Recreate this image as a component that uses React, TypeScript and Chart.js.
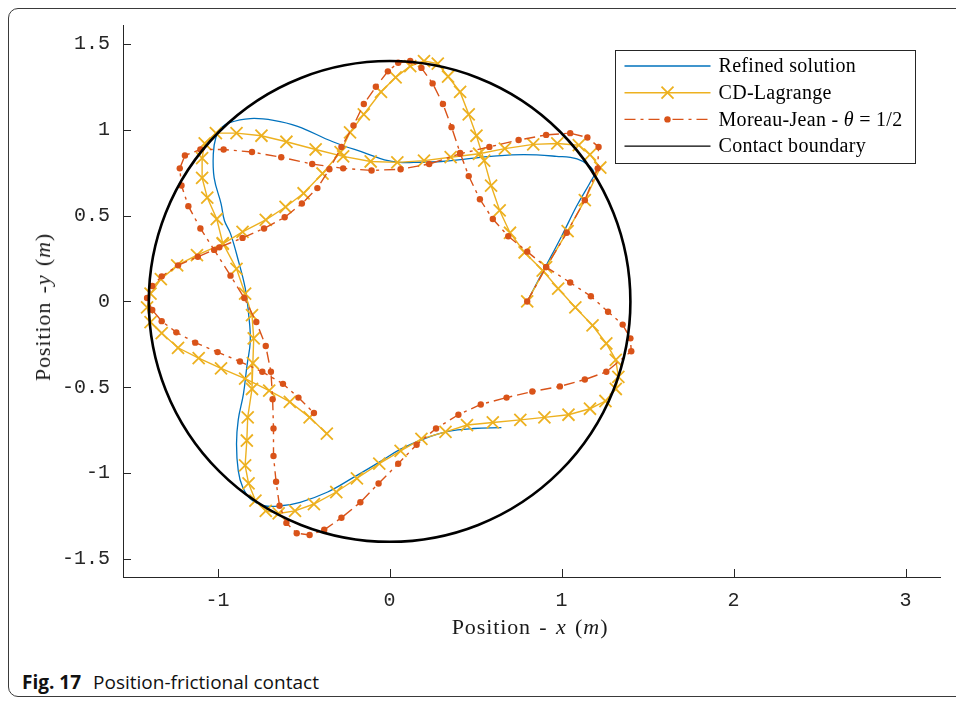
import React, { useEffect, useRef } from "react";
import { Chart, registerables } from "chart.js";

Chart.register(...registerables);

// ---- axes ----
const X_TICKS = [-1, 0, 1, 2, 3];
const Y_TICKS = [-1.5, -1, -0.5, 0, 0.5, 1, 1.5];
const X_RANGE = [-1.55, 3.2];
const Y_RANGE = [-1.605, 1.61];

// ---- contact boundary (circle of radius R centred at origin) ----
const CONTACT_CENTER = [0, 0];
const CONTACT_RADIUS = 1.4;

// ---- Refined solution ----
const REFINED_X = [0.8, 0.9, 1.0, 1.09, 1.17, 1.19, 1.16, 1.09, 0.97, 0.78, 0.59, 0.45, 0.3, 0.14, 0.06, -0.03, -0.13, -0.33, -0.535, -0.675, -0.81, -0.935, -0.98, -1.01, -1.025, -1.02, -0.98, -0.96, -0.925, -0.88, -0.84, -0.82, -0.81, -0.83, -0.85, -0.88, -0.89, -0.88, -0.855, -0.81, -0.73, -0.63, -0.52, -0.36, -0.21, -0.05, 0.064, 0.2, 0.34, 0.49, 0.65];
const REFINED_Y = [0.0, 0.19, 0.38, 0.56, 0.7, 0.745, 0.79, 0.83, 0.845, 0.855, 0.845, 0.83, 0.815, 0.81, 0.81, 0.825, 0.86, 0.93, 1.02, 1.055, 1.065, 1.04, 1.01, 0.955, 0.86, 0.72, 0.57, 0.47, 0.395, 0.24, 0.08, -0.07, -0.23, -0.38, -0.54, -0.69, -0.83, -0.985, -1.08, -1.15, -1.19, -1.19, -1.17, -1.11, -1.025, -0.93, -0.86, -0.8, -0.757, -0.74, -0.735];

// ---- CD-Lagrange ----
const CD_X = [0.8, 0.91, 1.035, 1.135, 1.225, 1.165, 1.1, 0.975, 0.835, 0.67, 0.52, 0.355, 0.2, 0.045, -0.11, -0.27, -0.43, -0.6, -0.745, -0.89, -1.01, -1.075, -1.09, -1.09, -1.06, -1.005, -0.97, -0.89, -0.84, -0.8, -0.79, -0.795, -0.8, -0.825, -0.83, -0.84, -0.82, -0.78, -0.72, -0.645, -0.55, -0.44, -0.31, -0.19, -0.06, 0.064, 0.185, 0.325, 0.45, 0.6, 0.76, 0.9, 1.04, 1.165, 1.255, 1.315, 1.33, 1.315, 1.26, 1.18, 1.08, 0.98, 0.89, 0.785, 0.7, 0.64, 0.59, 0.55, 0.505, 0.46, 0.41, 0.34, 0.28, 0.2, 0.12, 0.035, -0.05, -0.15, -0.23, -0.285, -0.39, -0.5, -0.605, -0.72, -0.855, -0.97, -1.12, -1.235, -1.33, -1.39, -1.41, -1.39, -1.325, -1.23, -1.11, -0.98, -0.84, -0.7, -0.58, -0.465, -0.365];
const CD_Y = [0.0, 0.2, 0.41, 0.59, 0.78, 0.855, 0.91, 0.92, 0.915, 0.89, 0.86, 0.84, 0.82, 0.81, 0.815, 0.845, 0.885, 0.93, 0.965, 0.98, 0.98, 0.92, 0.835, 0.72, 0.605, 0.48, 0.34, 0.19, 0.045, -0.08, -0.215, -0.36, -0.51, -0.675, -0.81, -0.955, -1.06, -1.16, -1.22, -1.235, -1.22, -1.18, -1.11, -1.03, -0.945, -0.87, -0.8, -0.76, -0.72, -0.705, -0.69, -0.675, -0.66, -0.625, -0.58, -0.51, -0.44, -0.34, -0.245, -0.14, -0.035, 0.075, 0.18, 0.285, 0.4, 0.53, 0.675, 0.82, 0.965, 1.09, 1.22, 1.31, 1.385, 1.4, 1.37, 1.305, 1.22, 1.09, 0.985, 0.87, 0.745, 0.63, 0.55, 0.475, 0.405, 0.335, 0.27, 0.21, 0.13, 0.045, -0.035, -0.12, -0.185, -0.27, -0.33, -0.39, -0.45, -0.52, -0.585, -0.675, -0.77];

// ---- Moreau-Jean, theta = 1/2 ----
const MJ_X = [0.8, 0.91, 1.03, 1.135, 1.21, 1.215, 1.15, 1.05, 0.91, 0.75, 0.58, 0.41, 0.23, 0.064, -0.105, -0.27, -0.45, -0.63, -0.8, -0.965, -1.1, -1.19, -1.22, -1.21, -1.17, -1.1, -1.02, -0.925, -0.845, -0.775, -0.72, -0.69, -0.68, -0.675, -0.675, -0.66, -0.64, -0.6, -0.54, -0.465, -0.38, -0.28, -0.17, -0.064, 0.05, 0.157, 0.27, 0.4, 0.53, 0.68, 0.83, 0.99, 1.135, 1.26, 1.405, 1.4, 1.355, 1.27, 1.17, 1.05, 0.91, 0.8, 0.69, 0.6, 0.525, 0.46, 0.41, 0.36, 0.31, 0.25, 0.185, 0.12, 0.05, -0.01, -0.08, -0.15, -0.21, -0.28, -0.35, -0.42, -0.51, -0.61, -0.73, -0.855, -0.99, -1.115, -1.23, -1.325, -1.38, -1.41, -1.38, -1.325, -1.24, -1.13, -1.0, -0.87, -0.74, -0.62, -0.53, -0.44];
const MJ_Y = [0.0, 0.2, 0.4, 0.59, 0.775, 0.9, 0.955, 0.98, 0.97, 0.94, 0.9, 0.86, 0.8, 0.77, 0.763, 0.775, 0.8, 0.84, 0.87, 0.885, 0.885, 0.85, 0.775, 0.675, 0.555, 0.425, 0.3, 0.15, 0.02, -0.12, -0.26, -0.41, -0.57, -0.74, -0.9, -1.05, -1.19, -1.29, -1.35, -1.36, -1.33, -1.26, -1.17, -1.06, -0.945, -0.835, -0.74, -0.66, -0.6, -0.56, -0.525, -0.495, -0.455, -0.41, -0.29, -0.215, -0.135, -0.06, 0.03, 0.11, 0.2, 0.29, 0.38, 0.48, 0.595, 0.73, 0.865, 1.015, 1.15, 1.27, 1.36, 1.4, 1.39, 1.34, 1.25, 1.15, 1.025, 0.9, 0.77, 0.66, 0.57, 0.49, 0.425, 0.37, 0.315, 0.26, 0.21, 0.146, 0.09, 0.02, -0.05, -0.115, -0.18, -0.24, -0.295, -0.35, -0.41, -0.48, -0.56, -0.65];

const LABELS = ["Refined solution", "CD-Lagrange", "Moreau-Jean - θ = 1/2", "Contact boundary"];

const BLUE = "#0072BD";
const YELLOW = "#EDB120";
const ORANGE = "#D95319";
const AXIS = "#262626";
const MJ_DASH = [11, 5, 3, 5];

const toPts = (xs: number[], ys: number[]) => xs.map((x, i) => ({ x, y: ys[i] }));

const decorPlugin = {
  id: "decor",
  afterDatasetsDraw(chart: any) {
    const { ctx, scales } = chart;
    const xs = scales.x, ys = scales.y;
    const cx = xs.getPixelForValue(CONTACT_CENTER[0]);
    const cy = ys.getPixelForValue(CONTACT_CENTER[1]);
    const rx = Math.abs(xs.getPixelForValue(CONTACT_CENTER[0] + CONTACT_RADIUS) - cx);
    const ry = Math.abs(ys.getPixelForValue(CONTACT_CENTER[1] + CONTACT_RADIUS) - cy);
    ctx.save();
    ctx.beginPath();
    ctx.ellipse(cx, cy, rx, ry, 0, 0, Math.PI * 2);
    ctx.lineWidth = 2.6;
    ctx.strokeStyle = "#000";
    ctx.stroke();
    ctx.restore();
  },
  afterDraw(chart: any) {
    const { ctx, scales, chartArea } = chart;
    const xs = scales.x, ys = scales.y;
    ctx.save();
    // inward tick marks
    ctx.strokeStyle = AXIS;
    ctx.lineWidth = 1;
    ctx.beginPath();
    X_TICKS.forEach((v) => {
      const p = Math.round(xs.getPixelForValue(v)) + 0.5;
      ctx.moveTo(p, chartArea.bottom);
      ctx.lineTo(p, chartArea.bottom - 8);
    });
    Y_TICKS.forEach((v) => {
      const p = Math.round(ys.getPixelForValue(v)) + 0.5;
      ctx.moveTo(chartArea.left, p);
      ctx.lineTo(chartArea.left + 8, p);
    });
    ctx.stroke();

    // legend
    const bx = chartArea.right - 324.5;
    const by = chartArea.top + 25.5;
    const bw = 300, bh = 113;
    ctx.fillStyle = "#fff";
    ctx.fillRect(bx, by, bw, bh);
    ctx.strokeStyle = AXIS;
    ctx.lineWidth = 1;
    ctx.strokeRect(bx, by, bw, bh);
    const rowY = (i: number) => by + 15.5 + i * 26.7;
    const l0 = bx + 9, l1 = bx + 95, lm = bx + 52, tx = bx + 103;
    for (let i = 0; i < 4; i++) {
      const yy = rowY(i);
      ctx.save();
      ctx.beginPath();
      ctx.moveTo(l0, yy);
      ctx.lineTo(l1, yy);
      if (i === 0) { ctx.strokeStyle = BLUE; ctx.lineWidth = 1.3; }
      if (i === 1) { ctx.strokeStyle = YELLOW; ctx.lineWidth = 1.4; }
      if (i === 2) { ctx.strokeStyle = ORANGE; ctx.lineWidth = 1.4; ctx.setLineDash(MJ_DASH); }
      if (i === 3) { ctx.strokeStyle = "#000"; ctx.lineWidth = 1.4; }
      ctx.stroke();
      ctx.setLineDash([]);
      if (i === 1) {
        const d = 6;
        ctx.beginPath();
        ctx.moveTo(lm - d, yy - d); ctx.lineTo(lm + d, yy + d);
        ctx.moveTo(lm - d, yy + d); ctx.lineTo(lm + d, yy - d);
        ctx.lineWidth = 1.8;
        ctx.stroke();
      }
      if (i === 2) {
        ctx.beginPath();
        ctx.arc(lm, yy, 3.2, 0, Math.PI * 2);
        ctx.fillStyle = ORANGE;
        ctx.fill();
      }
      ctx.restore();
      ctx.save();
      ctx.fillStyle = "#000";
      ctx.textBaseline = "middle";
      ctx.textAlign = "left";
      try { (ctx as any).letterSpacing = "0.3px"; } catch (e) {}
      const normal = '20px "Liberation Serif", "Times New Roman", serif';
      const italic = 'italic 20px "Liberation Serif", "Times New Roman", serif';
      if (i === 2) {
        const parts = [["Moreau-Jean - ", normal], ["θ", italic], [" = 1/2", normal]];
        let x = tx;
        parts.forEach(([t, f]) => {
          ctx.font = f;
          ctx.fillText(t, x, yy + 1);
          x += ctx.measureText(t).width;
        });
      } else {
        ctx.font = normal;
        ctx.fillText(LABELS[i], tx, yy + 1);
      }
      ctx.restore();
    }
    ctx.restore();
  },
};

export default function App() {
  const ref = useRef<HTMLCanvasElement | null>(null);
  useEffect(() => {
    if (!ref.current) return;
    const chart = new Chart(ref.current, {
      type: "scatter",
      data: {
        datasets: [
          {
            label: LABELS[0],
            data: toPts(REFINED_X, REFINED_Y),
            showLine: true,
            borderColor: BLUE,
            borderWidth: 1.3,
            pointRadius: 0,
            tension: 0.4,
            order: 3,
          },
          {
            label: LABELS[1],
            data: toPts(CD_X, CD_Y),
            showLine: true,
            borderColor: YELLOW,
            backgroundColor: YELLOW,
            borderWidth: 1.4,
            pointStyle: "crossRot",
            pointRadius: 8.5,
            pointBorderWidth: 1.8,
            pointBorderColor: YELLOW,
            order: 2,
          },
          {
            label: LABELS[2],
            data: toPts(MJ_X, MJ_Y),
            showLine: true,
            borderColor: ORANGE,
            backgroundColor: ORANGE,
            borderWidth: 1.4,
            borderDash: MJ_DASH,
            pointStyle: "circle",
            pointRadius: 3.2,
            pointBorderWidth: 0,
            pointBackgroundColor: ORANGE,
            order: 1,
          },
        ],
      },
      options: {
        animation: false,
        responsive: false,
        devicePixelRatio: 1,
        layout: { padding: { left: 0, right: 16, top: 25, bottom: 0 } },
        plugins: { legend: { display: false }, tooltip: { enabled: false } },
        scales: {
          x: {
            type: "linear",
            min: X_RANGE[0],
            max: X_RANGE[1],
            grid: { display: false, drawTicks: false },
            border: { display: true, color: AXIS, width: 1 },
            afterBuildTicks: (s: any) => { s.ticks = X_TICKS.map((v) => ({ value: v })); },
            afterFit: (s: any) => { s.height = 83; },
            ticks: {
              padding: 12,
              color: AXIS,
              font: { family: '"Liberation Mono", "Courier New", monospace', size: 20 },
              callback: (v: any) => String(v),
            },
          },
          y: {
            type: "linear",
            min: Y_RANGE[0],
            max: Y_RANGE[1],
            grid: { display: false, drawTicks: false },
            border: { display: true, color: AXIS, width: 1 },
            afterBuildTicks: (s: any) => { s.ticks = Y_TICKS.map((v) => ({ value: v })); },
            afterFit: (s: any) => { s.width = 123; },
            ticks: {
              padding: 13,
              color: AXIS,
              font: { family: '"Liberation Mono", "Courier New", monospace', size: 20 },
              callback: (v: any) => String(v),
            },
          },
        },
      },
      plugins: [decorPlugin],
    } as any);
    return () => chart.destroy();
  }, []);

  const serif = '"Liberation Serif", "Times New Roman", serif';
  const titleStyle = { position: "absolute" as const, whiteSpace: "nowrap" as const, fontFamily: serif, fontSize: 22, color: "#1a1a1a", letterSpacing: 0.9, wordSpacing: 2 };
  return (
    <div style={{ position: "fixed", left: 0, top: 0, width: 956, height: 702, overflow: "hidden", background: "#fff" }}>
      <div style={{ position: "absolute", left: 8, top: 8, width: 980, height: 689, border: "1px solid #3a3a3a", borderRadius: 10, boxSizing: "border-box" }} />
      <canvas ref={ref} width={956} height={660} style={{ position: "absolute", left: 0, top: 0, width: 956, height: 660 }} />
      <div style={{ ...titleStyle, left: 530, top: 627, transform: "translate(-50%, -50%)" }}>
        Position - <i>x</i> (<i>m</i>)
      </div>
      <div style={{ ...titleStyle, left: 43, top: 307, transform: "translate(-50%, -50%) rotate(-90deg)" }}>
        Position -<i>y</i> (<i>m</i>)
      </div>
      <div style={{ position: "absolute", left: 22, top: 672, whiteSpace: "nowrap", fontFamily: '"Liberation Sans Narrow", "Open Sans", sans-serif', fontSize: 19, lineHeight: "20px", color: "#111" }}>
        <b>Fig. 17</b>
        <span style={{ marginLeft: 12 }}>Position-frictional contact</span>
      </div>
    </div>
  );
}
